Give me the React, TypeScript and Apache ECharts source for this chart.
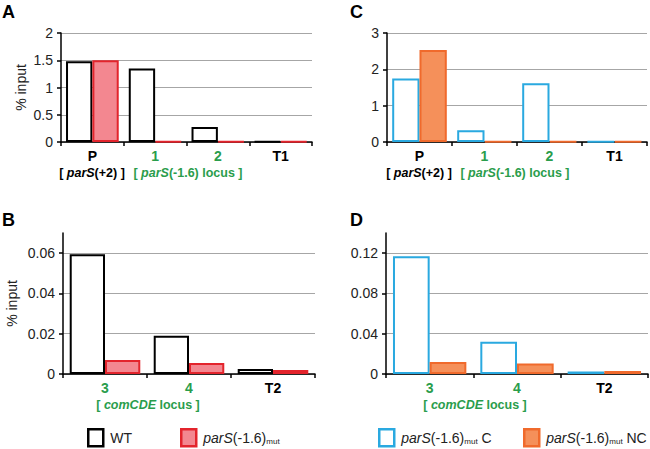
import React, { useEffect, useRef } from "react";
import * as echarts from "echarts";

const catsTop = ["P", "1", "2", "T1"];
const catsBottom = ["3", "4", "T2"];
const aWT = [1.48, 1.35, 0.275, 0.01];
const aMut = [1.5, 0.01, 0.01, 0.01];
const bWT = [0.0595, 0.019, 0.0025];
const bMut = [0.007, 0.0055, 0.002];
const cC = [1.75, 0.32, 1.62, 0.01];
const cNC = [2.53, 0.02, 0.02, 0.02];
const dC = [0.117, 0.032, 0.0025];
const dNC = [0.012, 0.0105, 0.003];

const FONT = "'Liberation Sans', Arial, sans-serif";
const GREEN = "#2a9d4c";
const GRIDC = "#a6a6a6";

const styles: Record<string, any> = {
  WT: { color: "#ffffff", borderColor: "#000000", borderWidth: 2 },
  mut: { color: "#f38790", borderColor: "#e3242c", borderWidth: 2 },
  C: { color: "#ffffff", borderColor: "#2aa9e0", borderWidth: 2 },
  NC: { color: "#f5905a", borderColor: "#f06a2c", borderWidth: 2 },
};

function xAxisCfg(gridIndex: number, data: string[]) {
  return {
    type: "category",
    gridIndex,
    data,
    axisLine: { lineStyle: { color: "#000", width: 1.5 } },
    axisTick: { show: true, length: 4, lineStyle: { color: "#000", width: 1.5 } },
    axisLabel: {
      fontFamily: FONT,
      fontSize: 14,
      fontWeight: "bold",
      margin: 7,
      color: (v: string) => (["1", "2", "3", "4"].includes(v) ? GREEN : "#000"),
    },
  };
}

function yAxisCfg(gridIndex: number, max: number, interval: number, cut: boolean, name?: string, nameGap?: number) {
  return {
    type: "value",
    gridIndex,
    min: 0,
    max,
    interval,
    name: name || "",
    nameLocation: "middle",
    nameGap: nameGap || 30,
    nameTextStyle: { fontFamily: FONT, fontSize: 14, color: "#222" },
    axisLine: { show: true, lineStyle: { color: "#000", width: 1.5 } },
    axisTick: { show: true, length: 4, lineStyle: { color: "#000", width: 1.5 } },
    axisLabel: {
      fontFamily: FONT,
      fontSize: 14,
      color: "#222",
      margin: 8,
      showMaxLabel: !cut,
    },
    splitLine: { show: true, showMaxLine: !cut, lineStyle: { color: GRIDC, width: 1 } },
  };
}

function barSeries(name: string, idx: number, data: number[]) {
  return {
    type: "bar",
    name,
    xAxisIndex: idx,
    yAxisIndex: idx,
    data,
    barGap: "0%",
    barCategoryGap: "16%",
    itemStyle: styles[name],
    z: 3,
  };
}

const richLegend = {
  n: { fontFamily: FONT, fontSize: 14, color: "#222", lineHeight: 17 },
  i: { fontFamily: FONT, fontSize: 14, fontStyle: "italic", color: "#222", lineHeight: 17 },
  s: { fontFamily: FONT, fontSize: 8, color: "#222", lineHeight: 17, padding: [8, 0, 0, 0] },
};

function legendName(name: string) {
  if (name === "WT") return "{n|WT}";
  if (name === "mut") return "{i|parS}{n|(-1.6)}{s|mut}";
  if (name === "C") return "{i|parS}{n|(-1.6)}{s|mut}{n| C}";
  return "{i|parS}{n|(-1.6)}{s|mut}{n| NC}";
}

function legendCfg(name: string, left: number) {
  return {
    data: [name],
    left,
    top: 428,
    padding: 0,
    icon: "rect",
    itemWidth: 15,
    itemHeight: 17,
    itemGap: 0,
    selectedMode: false,
    itemStyle: { borderWidth: 2.5 },
    formatter: legendName,
    textStyle: { rich: richLegend, fontFamily: FONT, fontSize: 14, padding: [0, 0, 0, 2] },
  };
}

function bracketText(text: string, x: number, y: number, color: string) {
  return {
    type: "text",
    x,
    y,
    style: {
      text,
      fill: color,
      fontFamily: FONT,
      fontSize: 12.5,
      fontWeight: "bold",
      align: "center",
      verticalAlign: "middle",
      rich: {
        i: { fontFamily: FONT, fontSize: 12.5, fontWeight: "bold", fontStyle: "italic", fill: color },
      },
    },
  };
}

function letter(t: string, x: number, y: number) {
  return {
    type: "text",
    x,
    y,
    style: {
      text: t,
      fill: "#000",
      fontFamily: FONT,
      fontSize: 18,
      fontWeight: "bold",
      align: "left",
      verticalAlign: "middle",
    },
  };
}

export default function App() {
  const ref = useRef<HTMLDivElement>(null);
  useEffect(() => {
    if (!ref.current) return;
    const chart = echarts.init(ref.current, undefined, { renderer: "svg" });
    const option: any = {
      animation: false,
      backgroundColor: "#ffffff",
      textStyle: { fontFamily: FONT },
      grid: [
        { left: 61, top: 33, width: 251, height: 109 },
        { left: 63, top: 233, width: 252, height: 141 },
        { left: 387, top: 33, width: 260, height: 109 },
        { left: 386, top: 233, width: 262, height: 141 },
      ],
      xAxis: [
        xAxisCfg(0, catsTop),
        xAxisCfg(1, catsBottom),
        xAxisCfg(2, catsTop),
        xAxisCfg(3, catsBottom),
      ],
      yAxis: [
        yAxisCfg(0, 2, 0.5, false, "% input", 33),
        yAxisCfg(1, 0.07, 0.02, true, "% input", 44),
        yAxisCfg(2, 3, 1, false),
        yAxisCfg(3, 0.14, 0.04, true),
      ],
      legend: [
        legendCfg("WT", 87),
        legendCfg("mut", 180),
        legendCfg("C", 378),
        legendCfg("NC", 523),
      ],
      series: [
        barSeries("WT", 0, aWT),
        barSeries("mut", 0, aMut),
        barSeries("WT", 1, bWT),
        barSeries("mut", 1, bMut),
        barSeries("C", 2, cC),
        barSeries("NC", 2, cNC),
        barSeries("C", 3, dC),
        barSeries("NC", 3, dNC),
      ],
      graphic: [
        letter("A", 2, 12),
        letter("B", 2, 220),
        letter("C", 350, 12),
        letter("D", 350, 220),
        bracketText("[ {i|parS}(+2) ]", 92, 173, "#000"),
        bracketText("[ {i|parS}(-1.6) locus ]", 188, 173, GREEN),
        bracketText("[ {i|parS}(+2) ]", 419, 173, "#000"),
        bracketText("[ {i|parS}(-1.6) locus ]", 515, 173, GREEN),
        bracketText("[ {i|comCDE} locus ]", 148, 405, GREEN),
        bracketText("[ {i|comCDE} locus ]", 475, 405, GREEN),
      ],
    };
    chart.setOption(option);
    return () => chart.dispose();
  }, []);
  return (
    <div
      ref={ref}
      style={{ position: "fixed", left: 0, top: 0, width: 650, height: 449, background: "#fff" }}
    />
  );
}
